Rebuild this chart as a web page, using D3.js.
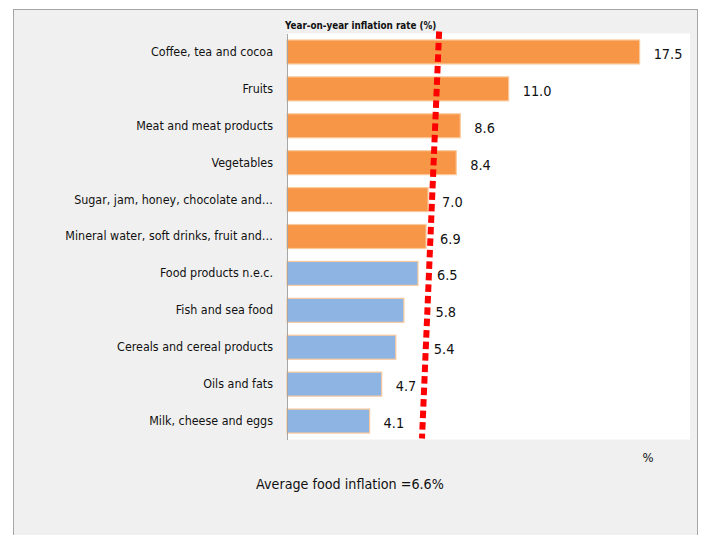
<!DOCTYPE html>
<html>
<head>
<meta charset="utf-8">
<script src="https://cdn.jsdelivr.net/npm/d3@7"></script>
<style>
  body { margin: 0; background: #fff; }
  svg { display: block; }
  text { font-family: "DejaVu Sans Condensed", "Liberation Sans Narrow", sans-serif; fill: #111; }
</style>
</head>
<body>
<svg id="chart" width="702" height="535"></svg>
<script>
// Food groups, top to bottom
const categories = [
    "Coffee, tea and cocoa",
    "Fruits",
    "Meat and meat products",
    "Vegetables",
    "Sugar, jam, honey, chocolate and…",
    "Mineral water, soft drinks, fruit and…",
    "Food products n.e.c.",
    "Fish and sea food",
    "Cereals and cereal products",
    "Oils and fats",
    "Milk, cheese and eggs"
];

// Year-on-year inflation rate (%)
const rates = [17.5, 11.0, 8.6, 8.4, 7.0, 6.9, 6.5, 5.8, 5.4, 4.7, 4.1];

// Average food inflation and the hand-drawn marker line (value at top, value at bottom)
const avgFood = 6.6;
const markerLine = [7.55, 6.7];

const svg = d3.select("#chart");

// Grey outer panel
svg.append("rect")
    .attr("x", 13.5).attr("y", 9.5)
    .attr("width", 684).attr("height", 540)
    .attr("fill", "#f0f0f0")
    .attr("stroke", "#a6a6a6");

// Scales
const x = d3.scaleLinear().domain([0, 20]).range([287, 690]);
const y = d3.scaleBand()
    .domain(categories)
    .range([33.5, 439.5])
    .paddingInner(0.35)
    .paddingOuter(0.175);

// White plot area
svg.append("rect")
    .attr("x", x(0)).attr("y", y.range()[0])
    .attr("width", x.range()[1] - x(0))
    .attr("height", y.range()[1] - y.range()[0])
    .attr("fill", "#fff");

// Bars: above-average groups orange, the rest blue
svg.append("g")
    .selectAll("rect")
    .data(rates)
    .join("rect")
    .attr("x", x(0))
    .attr("y", (d, i) => y(categories[i]))
    .attr("width", d => x(d) - x(0))
    .attr("height", y.bandwidth())
    .attr("fill", d => d > avgFood ? "#f79646" : "#8db4e2")
    .attr("stroke", "#fac99c")
    .attr("stroke-width", 1.2);

// Category axis
const yAxis = svg.append("g")
    .attr("transform", `translate(${x(0)},0)`)
    .call(d3.axisLeft(y).tickSize(0).tickPadding(14));
yAxis.select(".domain").attr("stroke", "#a6a6a6");
yAxis.selectAll("text")
    .style("font-family", "'DejaVu Sans Condensed', sans-serif")
    .style("font-size", "12.4px")
    .attr("fill", "#111");

// Marker line endpoints
const lineTop = y.range()[0] - 2;
const lineBottom = y.range()[1] - 1;
const lineX = yy => x(markerLine[0]) + (x(markerLine[1]) - x(markerLine[0])) * (yy - lineTop) / (lineBottom - lineTop);

// Value labels, nudged right of the dotted line when they would sit on it
svg.append("g")
    .selectAll("text")
    .data(rates)
    .join("text")
    .attr("x", (d, i) => {
        const cy = y(categories[i]) + y.bandwidth() / 2;
        const px = x(d) + 14;
        const lx = lineX(cy);
        return (px < lx + 6 && px + 24 > lx - 4) ? lx + 8 : px;
    })
    .attr("y", (d, i) => y(categories[i]) + y.bandwidth() / 2 + 2)
    .attr("dy", "0.35em")
    .style("font-size", "14.4px")
    .text(d => d.toFixed(1));

// Red dotted marker for the average
svg.append("line")
    .attr("x1", x(markerLine[0])).attr("y1", lineTop)
    .attr("x2", x(markerLine[1])).attr("y2", lineBottom)
    .attr("stroke", "#ff0000")
    .attr("stroke-width", 6)
    .attr("stroke-dasharray", "7.5,4");

// Title above plot
svg.append("text")
    .attr("x", 285).attr("y", 29)
    .style("font-size", "9.8px")
    .style("font-weight", "bold")
    .text("Year-on-year inflation rate (%)");

// Unit label
svg.append("text")
    .attr("x", 648).attr("y", 462)
    .attr("text-anchor", "middle")
    .style("font-size", "13px")
    .text("%");

// Average note
svg.append("text")
    .attr("x", 350).attr("y", 489)
    .attr("text-anchor", "middle")
    .style("font-size", "14.2px")
    .text(`Average food inflation =${avgFood}%`);
</script>
</body>
</html>
